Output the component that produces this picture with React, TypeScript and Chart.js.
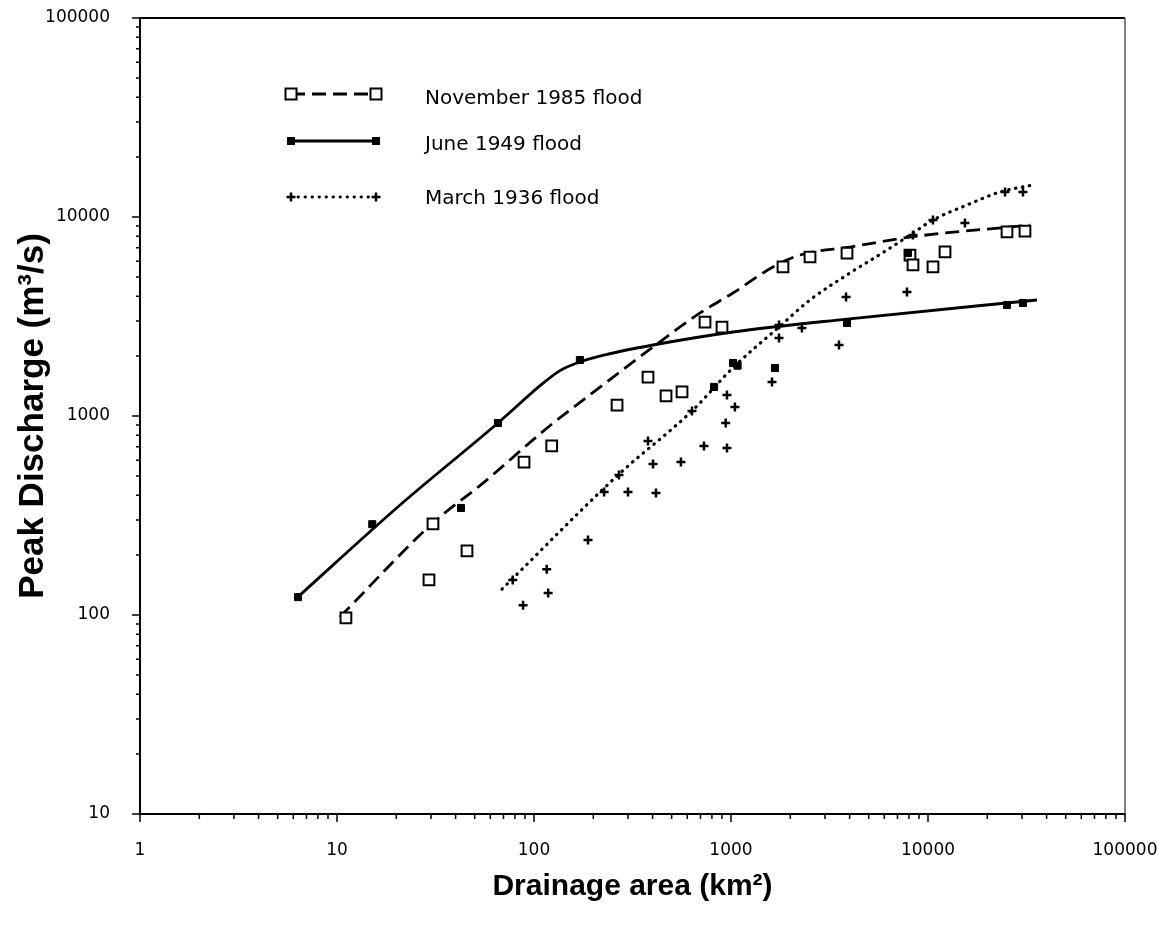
import React, { useEffect, useRef } from 'react';
import { Chart, registerables } from 'chart.js';

Chart.register(...registerables);

// ---------- axes ----------
const xMin = 1;
const xMax = 100000;
const yMin = 10;
const yMax = 100000;
const xTickValues = [1, 10, 100, 1000, 10000, 100000];
const xTickLabels = ['1', '10', '100', '1000', '10000', '100000'];
const yTickValues = [10, 100, 1000, 10000, 100000];
const yTickLabels = ['10', '100', '1000', '10000', '100000'];
const xTitle = 'Drainage area (km²)';
const yTitle = 'Peak Discharge (m³/s)';

const seriesLabels = ['November 1985 flood', 'June 1949 flood', 'March 1936 flood'];

// ---------- fitted curves (drainage area km², peak discharge m³/s) ----------
const nov1985CurveArea = [10.35, 30.7, 55.1, 116.4, 186, 402, 697, 1024, 1633, 2239, 4018, 8110, 32950];
const nov1985CurveQ = [97.8, 290, 460, 870, 1245, 2222, 3296, 4150, 5610, 6443, 7066, 7930, 9100];

const jun1949CurveArea = [6.2, 20.9, 65.6, 112, 135.5, 165, 230, 402, 1024, 3880, 35740];
const jun1949CurveQ = [121, 357, 922, 1470, 1690, 1847, 2030, 2274, 2643, 3071, 3828];

const mar1936CurveArea = [68.8, 267, 641, 1024, 1753, 2518, 4018, 6194, 8390, 10600, 15780, 23200, 34120];
const mar1936CurveQ = [135, 505, 1072, 1750, 2800, 3828, 5234, 6824, 8310, 9660, 11490, 13360, 14490];

// ---------- observed points ----------
const nov1985ObsArea = [11.1, 29.3, 30.7, 45.7, 89, 123, 264, 379, 468, 564, 738, 900, 1836, 2518, 3880, 8100, 8390, 10600, 12200, 25180, 31060];
const nov1985ObsQ = [96.6, 150, 287, 210, 587, 707, 1135, 1570, 1262, 1321, 2967, 2800, 5610, 6295, 6590, 6440, 5740, 5610, 6670, 8410, 8500];

const jun1949ObsArea = [6.34, 15.1, 42.6, 65.6, 171, 820, 1024, 1080, 1672, 3880, 7910, 25180, 30340];
const jun1949ObsQ = [123, 286, 345, 922, 1911, 1400, 1846, 1790, 1742, 2933, 6590, 3613, 3698];

const mar1936ObsArea = [78, 88, 116, 118, 188, 227, 270, 300, 379, 402, 416, 557, 634, 729, 940, 954, 954, 1047, 1615, 1753, 1753, 2291, 3533, 3837, 7820, 8390, 10600, 15400, 24600, 30340];
const mar1936ObsQ = [150, 112, 170, 129, 238, 415, 505, 415, 749, 574, 410, 587, 1060, 707, 922, 691, 1276, 1110, 1482, 2466, 2867, 2768, 2274, 3963, 4199, 8120, 9660, 9330, 13360, 13360];

const toPoints = (xs: number[], ys: number[]) => xs.map((x, i) => ({ x, y: ys[i] }));

// ---------- styles ----------
const FONT_TICK = '"DejaVu Sans", sans-serif';
const FONT_TITLE = '"Liberation Sans", Arial, sans-serif';
const DASH = [14, 7];
const DOT = [0.5, 6.5];

type MarkerKind = 'open' | 'filled' | 'plus';

function drawMarker(ctx: CanvasRenderingContext2D, kind: MarkerKind, x: number, y: number) {
  ctx.save();
  ctx.setLineDash([]);
  if (kind === 'open') {
    const s = 11;
    ctx.fillStyle = '#fff';
    ctx.fillRect(x - s / 2, y - s / 2, s, s);
    ctx.lineWidth = 2;
    ctx.strokeStyle = '#000';
    ctx.strokeRect(x - s / 2, y - s / 2, s, s);
  } else if (kind === 'filled') {
    const s = 8;
    ctx.fillStyle = '#000';
    ctx.fillRect(x - s / 2, y - s / 2, s, s);
  } else {
    ctx.strokeStyle = '#000';
    ctx.lineWidth = 2.5;
    ctx.beginPath();
    ctx.moveTo(x - 4.5, y);
    ctx.lineTo(x + 4.5, y);
    ctx.moveTo(x, y - 4.5);
    ctx.lineTo(x, y + 4.5);
    ctx.stroke();
  }
  ctx.restore();
}

const legendRows = [
  { label: seriesLabels[0], kind: 'open' as MarkerKind, dash: DASH, cap: 'butt' as CanvasLineCap, y: 94, textY: 104 },
  { label: seriesLabels[1], kind: 'filled' as MarkerKind, dash: [] as number[], cap: 'butt' as CanvasLineCap, y: 141, textY: 150 },
  { label: seriesLabels[2], kind: 'plus' as MarkerKind, dash: DOT, cap: 'round' as CanvasLineCap, y: 197, textY: 204 },
];

const framePlugin = {
  id: 'frameTicksLegend',
  afterDraw(chart: any) {
    const { ctx, chartArea } = chart;
    const xs = chart.scales.x;
    const ys = chart.scales.y;
    const { left, right, top, bottom } = chartArea;
    ctx.save();
    // frame
    ctx.strokeStyle = '#000';
    ctx.lineWidth = 2;
    ctx.beginPath();
    ctx.moveTo(left, top);
    ctx.lineTo(right, top);
    ctx.moveTo(left, top - 1);
    ctx.lineTo(left, bottom + 1);
    ctx.moveTo(left - 1, bottom);
    ctx.lineTo(right + 1, bottom);
    ctx.stroke();
    ctx.strokeStyle = '#555';
    ctx.lineWidth = 1.5;
    ctx.beginPath();
    ctx.moveTo(right, top);
    ctx.lineTo(right, bottom);
    ctx.stroke();

    // tick marks (major at decades, minor at 2..9)
    ctx.strokeStyle = '#000';
    ctx.lineWidth = 1.5;
    ctx.beginPath();
    for (let d = xMin; d <= xMax; d *= 10) {
      for (let m = 1; m <= 9; m++) {
        const v = d * m;
        if (v > xMax) break;
        const px = xs.getPixelForValue(v);
        const len = m === 1 ? 8 : 5;
        ctx.moveTo(px, bottom);
        ctx.lineTo(px, bottom + len);
      }
    }
    for (let d = yMin; d <= yMax; d *= 10) {
      for (let m = 1; m <= 9; m++) {
        const v = d * m;
        if (v > yMax) break;
        const py = ys.getPixelForValue(v);
        const len = m === 1 ? 8 : 4;
        ctx.moveTo(left, py);
        ctx.lineTo(left - len, py);
      }
    }
    ctx.stroke();

    // legend
    const lx1 = 291;
    const lx2 = 376;
    const tx = 425;
    legendRows.forEach((row) => {
      ctx.save();
      ctx.strokeStyle = '#000';
      ctx.lineWidth = 2.8;
      ctx.lineCap = row.cap;
      ctx.setLineDash(row.dash);
      ctx.beginPath();
      ctx.moveTo(lx1, row.y);
      ctx.lineTo(lx2, row.y);
      ctx.stroke();
      ctx.restore();
      drawMarker(ctx, row.kind, lx1, row.y);
      drawMarker(ctx, row.kind, lx2, row.y);
      ctx.fillStyle = '#000';
      ctx.font = `20px ${FONT_TICK}`;
      ctx.textAlign = 'left';
      ctx.textBaseline = 'alphabetic';
      ctx.fillText(row.label, tx, row.textY);
    });
    ctx.restore();
  },
};

export default function App() {
  const canvasRef = useRef<HTMLCanvasElement | null>(null);

  useEffect(() => {
    const canvas = canvasRef.current;
    if (!canvas) return;

    const curveBase = {
      showLine: true,
      pointRadius: 0,
      pointHoverRadius: 0,
      borderColor: '#000',
      borderWidth: 2.8,
      cubicInterpolationMode: 'monotone' as const,
      fill: false,
      order: 2,
    };

    const chart = new Chart(canvas, {
      type: 'scatter',
      data: {
        datasets: [
          { ...curveBase, label: seriesLabels[0], data: toPoints(nov1985CurveArea, nov1985CurveQ), borderDash: DASH },
          { ...curveBase, label: seriesLabels[1], data: toPoints(jun1949CurveArea, jun1949CurveQ) },
          { ...curveBase, label: seriesLabels[2], data: toPoints(mar1936CurveArea, mar1936CurveQ), borderDash: DOT, borderCapStyle: 'round', borderWidth: 3.2 },
          {
            label: seriesLabels[0] + ' (observed)',
            data: toPoints(nov1985ObsArea, nov1985ObsQ),
            pointStyle: 'rect',
            pointRadius: 7.6,
            pointBorderWidth: 2,
            pointBorderColor: '#000',
            pointBackgroundColor: '#fff',
            showLine: false,
            order: 1,
          },
          {
            label: seriesLabels[1] + ' (observed)',
            data: toPoints(jun1949ObsArea, jun1949ObsQ),
            pointStyle: 'rect',
            pointRadius: 5,
            pointBorderWidth: 1,
            pointBorderColor: '#000',
            pointBackgroundColor: '#000',
            showLine: false,
            order: 0,
          },
          {
            label: seriesLabels[2] + ' (observed)',
            data: toPoints(mar1936ObsArea, mar1936ObsQ),
            pointStyle: 'cross',
            pointRadius: 4.5,
            pointBorderWidth: 2.5,
            pointBorderColor: '#000',
            pointBackgroundColor: '#000',
            showLine: false,
            order: 0,
          },
        ],
      },
      options: {
        animation: false,
        responsive: true,
        maintainAspectRatio: false,
        layout: { padding: { top: 18, right: 32, left: 0, bottom: 0 } },
        plugins: {
          legend: { display: false },
          tooltip: { enabled: false },
          title: { display: false },
        },
        scales: {
          x: {
            type: 'logarithmic',
            min: xMin,
            max: xMax,
            grid: { display: false, drawTicks: false, tickLength: 0 },
            border: { display: false },
            afterBuildTicks: (scale: any) => {
              scale.ticks = xTickValues.map((v) => ({ value: v }));
            },
            afterFit: (scale: any) => {
              scale.height = 127;
              scale.paddingLeft = 0;
              scale.paddingRight = 0;
            },
            ticks: {
              autoSkip: false,
              maxRotation: 0,
              padding: 26,
              color: '#000',
              font: { family: FONT_TICK, size: 17 },
              callback: (_v: any, i: number) => xTickLabels[i],
            },
            title: {
              display: true,
              text: xTitle,
              color: '#000',
              font: { family: FONT_TITLE, size: 30, weight: 'bold' },
              padding: { top: 0, bottom: 36 },
            },
          },
          y: {
            type: 'logarithmic',
            min: yMin,
            max: yMax,
            grid: { display: false, drawTicks: false, tickLength: 0 },
            border: { display: false },
            afterBuildTicks: (scale: any) => {
              scale.ticks = yTickValues.map((v) => ({ value: v }));
            },
            afterFit: (scale: any) => {
              scale.width = 140;
              scale.paddingTop = 0;
              scale.paddingBottom = 0;
            },
            ticks: {
              autoSkip: false,
              padding: 30,
              color: '#000',
              font: { family: FONT_TICK, size: 17 },
              callback: (_v: any, i: number) => yTickLabels[i],
            },
            title: {
              display: true,
              text: yTitle,
              color: '#000',
              font: { family: FONT_TITLE, size: 35, weight: 'bold' },
              padding: { top: 12, bottom: 0 },
            },
          },
        },
      },
      plugins: [framePlugin],
    } as any);

    return () => {
      chart.destroy();
    };
  }, []);

  return (
    <div style={{ position: 'fixed', left: 0, top: 0, width: 1157, height: 941, background: '#fff' }}>
      <canvas ref={canvasRef} />
    </div>
  );
}
